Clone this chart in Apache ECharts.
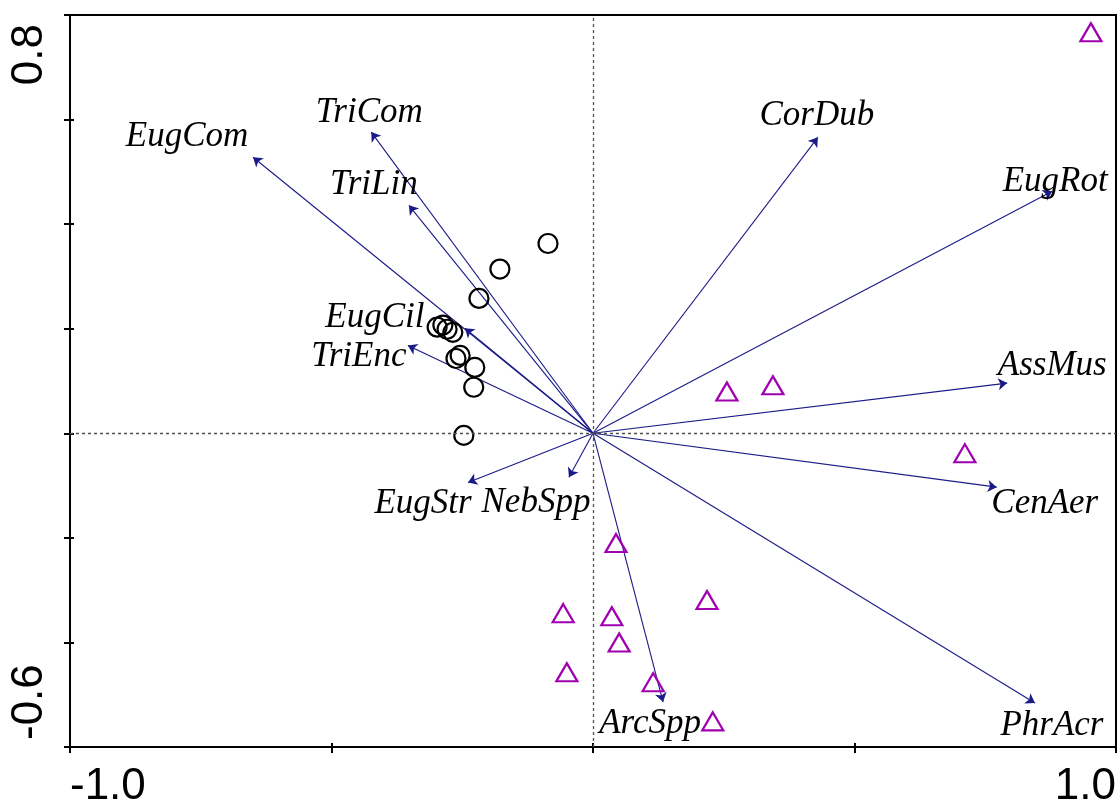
<!DOCTYPE html>
<html>
<head>
<meta charset="utf-8">
<title>Biplot</title>
<script src="https://cdn.jsdelivr.net/npm/echarts@6/dist/echarts.min.js"></script>
<style>
  html, body { margin: 0; padding: 0; background: #fff; }
  #chart { width: 1118px; height: 802px; }
</style>
</head>
<body>
<div id="chart"></div>
<script>
// Species vectors (arrow tips, axis 1 / axis 2 scores)
const speciesNames = ['EugCom', 'TriCom', 'TriLin', 'EugCil', 'TriEnc', 'EugStr', 'NebSpp',
                      'ArcSpp', 'PhrAcr', 'CenAer', 'AssMus', 'EugRot', 'CorDub'];
const speciesX = [-0.650, -0.424, -0.352, -0.245, -0.354, -0.239, -0.046,
                  0.134, 0.845, 0.772, 0.792, 0.878, 0.430];
const speciesY = [0.528, 0.576, 0.436, 0.201, 0.168, -0.094, -0.084,
                  -0.514, -0.516, -0.103, 0.096, 0.463, 0.566];

// Sample scores, group 1 (circles)
const groupAX = [-0.086, -0.178, -0.218, -0.298, -0.287, -0.279, -0.268,
                 -0.254, -0.262, -0.226, -0.228, -0.247];
const groupAY = [0.363, 0.314, 0.258, 0.203, 0.207, 0.199, 0.193,
                 0.149, 0.143, 0.126, 0.088, -0.004];

// Sample scores, group 2 (triangles)
const groupBX = [0.044, -0.057, 0.036, 0.050, 0.218, -0.050, 0.115,
                 0.229, 0.256, 0.344, 0.711, 0.952];
const groupBY = [-0.210, -0.344, -0.350, -0.400, -0.319, -0.457, -0.476,
                 -0.551, 0.080, 0.092, -0.038, 0.767];

// Axis ranges and end labels
const xRange = [-1.0, 1.0];
const yRange = [-0.6, 0.8];
const xEndLabels = ['-1.0', '1.0'];
const yEndLabels = ['-0.6', '0.8'];

// Label placement (pixel offset of each species name's centre from its arrow tip)
const labelOffsets = [[-66, -20], [-2, -19], [-35, -21], [-90, -10], [-49, 11], [-45, 21], [-33, 26],
                      [-13, 22], [17, 23], [48, 17], [45, -17], [3, -9], [-1, -22]];

const ARROW = '#1a1a88';
const PURPLE = '#a000b0';

const chart = echarts.init(document.getElementById('chart'), null, { renderer: 'canvas' });

const near = (a, b) => Math.abs(a - b) < 1e-6;

const arrowData = speciesNames.map((n, i) => ({
  coords: [[0, 0], [speciesX[i], speciesY[i]]]
}));

// symbolSize is 2, so the symbol box's top-left sits 1px up-left of the tip
const tipData = speciesNames.map((n, i) => ({
  name: n,
  value: [speciesX[i], speciesY[i]],
  label: { position: [labelOffsets[i][0] + 1, labelOffsets[i][1] + 1] }
}));

const axisLabelFont = { fontFamily: 'Liberation Sans, Arial, sans-serif', fontSize: 44, color: '#000' };

const option = {
  animation: false,
  backgroundColor: '#fff',
  grid: {
    left: 70, right: 2, top: 15, bottom: 55,
    outerBoundsMode: 'none', containLabel: false,
    show: true, borderColor: '#000', borderWidth: 2, backgroundColor: 'transparent'
  },
  xAxis: [
    {
      type: 'value', min: xRange[0], max: xRange[1], interval: 0.5,
      axisLine: { show: true, onZero: false, lineStyle: { color: '#000', width: 2 } },
      axisTick: { show: true, inside: false, length: 6, lineStyle: { color: '#000', width: 2 } },
      splitLine: { show: false },
      axisLabel: Object.assign({
        margin: 18,
        showMinLabel: true, showMaxLabel: true,
        alignMinLabel: 'left', alignMaxLabel: 'right',
        formatter: v => near(v, xRange[0]) ? xEndLabels[0] : (near(v, xRange[1]) ? xEndLabels[1] : '')
      }, axisLabelFont)
    },
    {
      type: 'value', min: xRange[0], max: xRange[1], interval: 0.5, position: 'bottom',
      axisLine: { show: false, onZero: false },
      axisTick: { show: true, inside: true, length: 4, lineStyle: { color: '#000', width: 2 } },
      splitLine: { show: false },
      axisLabel: { show: false }
    }
  ],
  yAxis: [
    {
      type: 'value', min: yRange[0], max: yRange[1], interval: 0.2,
      axisLine: { show: true, onZero: false, lineStyle: { color: '#000', width: 2 } },
      axisTick: { show: true, inside: false, length: 6, lineStyle: { color: '#000', width: 2 } },
      splitLine: { show: false },
      axisLabel: Object.assign({
        margin: 18, rotate: 90, padding: [0, 9, 0, 7],
        showMinLabel: true, showMaxLabel: true,
        alignMinLabel: 'left', alignMaxLabel: 'right',
        formatter: v => near(v, yRange[0]) ? yEndLabels[0] : (near(v, yRange[1]) ? yEndLabels[1] : '')
      }, axisLabelFont)
    },
    {
      type: 'value', min: yRange[0], max: yRange[1], interval: 0.2, position: 'left',
      axisLine: { show: false, onZero: false },
      axisTick: { show: true, inside: true, length: 4, lineStyle: { color: '#000', width: 2 } },
      splitLine: { show: false },
      axisLabel: { show: false }
    }
  ],
  series: [
    {
      // zero reference lines
      type: 'scatter', data: [], silent: true,
      markLine: {
        silent: true, symbol: ['none', 'none'], animation: false,
        label: { show: false },
        lineStyle: { type: [3, 3], color: '#505050', width: 1.3, opacity: 1 },
        data: [{ xAxis: 0 }, { yAxis: 0 }]
      }
    },
    {
      // species arrows
      type: 'lines', coordinateSystem: 'cartesian2d', silent: true,
      symbol: ['none', 'arrow'], symbolSize: [0, 9],
      lineStyle: { color: ARROW, width: 1.1, opacity: 1, curveness: 0 },
      data: arrowData
    },
    {
      // species names
      type: 'scatter', symbolSize: 2, silent: true,
      itemStyle: { color: 'rgba(0,0,0,0)', opacity: 1 },
      label: {
        show: true, formatter: p => p.name,
        fontFamily: 'Liberation Serif, Times New Roman, serif',
        fontStyle: 'italic', fontSize: 35, color: '#000',
        align: 'center', verticalAlign: 'middle'
      },
      data: tipData
    },
    {
      type: 'scatter', symbol: 'circle', symbolSize: 19, silent: true,
      itemStyle: { color: 'rgba(0,0,0,0)', borderColor: '#000', borderWidth: 2.2, opacity: 1 },
      data: groupAX.map((x, i) => [x, groupAY[i]])
    },
    {
      type: 'scatter', symbol: 'triangle', symbolSize: [21, 18], silent: true,
      itemStyle: { color: 'rgba(0,0,0,0)', borderColor: PURPLE, borderWidth: 2.2, opacity: 1 },
      data: groupBX.map((x, i) => [x, groupBY[i]])
    }
  ]
};

chart.setOption(option);
</script>
</body>
</html>
